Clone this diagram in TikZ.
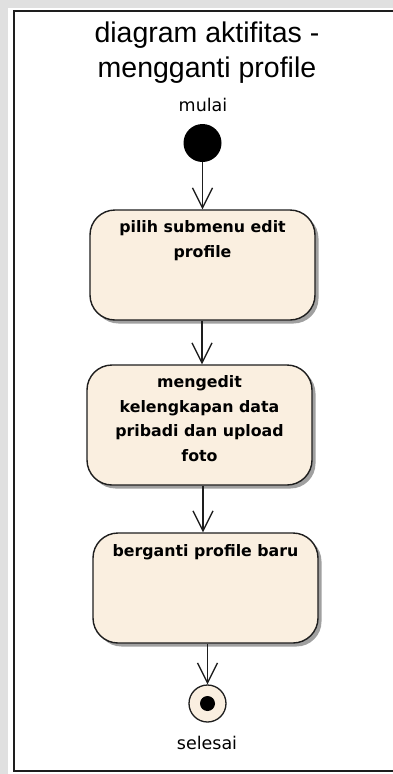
\documentclass[tikz,border=0pt]{standalone}
\usepackage{fontspec}
\usetikzlibrary{arrows.meta,calc}
\newfontfamily\titlefont{Liberation Sans}
\newfontfamily\labelfont{DejaVu Sans}
\newfontfamily\boxfont{DejaVu Sans}[BoldFont={DejaVu Sans Bold}]
\definecolor{cream}{RGB}{250,239,224}
\definecolor{framegray}{RGB}{224,224,224}
\definecolor{ink}{RGB}{30,30,30}
\definecolor{shadowgray}{RGB}{160,160,160}
\tikzset{
  actbox/.style={draw=ink, line width=1.4pt, fill=cream, rounded corners=25pt,
    minimum width=225pt, inner sep=0pt},
  boxtext/.style={anchor=north, inner sep=0pt, align=center,
    font=\boxfont\bfseries\fontsize{15.8pt}{24.5pt}\selectfont},
  lbl/.style={anchor=base, inner sep=0pt, font=\labelfont\fontsize{17.5pt}{20pt}\selectfont},
  flow/.style={draw=ink, line width=1.3pt, -{Straight Barb[length=20pt,width=20pt,line width=1.3pt]}},
  shadowbox/.style={fill=shadowgray, rounded corners=25pt}
}
\begin{document}
\begin{tikzpicture}[x=1pt,y=1pt]
\useasboundingbox (0,0) rectangle (393,-774);
\fill[framegray] (0,0) rectangle (393,-774);
\fill[white] (8,-8) rectangle (393,-774);
\draw[ink, line width=2pt] (393,-10.5) -- (14,-10.5) -- (14,-771) -- (393,-771);

% title
\node[anchor=north, inner sep=0pt, align=center,
  font=\titlefont\fontsize{28.5pt}{35pt}\selectfont] (title) at (207,-22)
  {diagram aktifitas -\\mengganti profile};

\node[lbl] (mulai) at (203,-111.8) {mulai};
\node[circle, fill=black, minimum size=38pt, inner sep=0pt] (start) at (202.5,-143) {};

% shadows
\fill[shadowgray, rounded corners=25pt] (93.5,-213.5) rectangle (318.5,-323.5);
\fill[shadowgray, rounded corners=25pt] (90.5,-368.5) rectangle (315.5,-488.5);
\fill[shadowgray, rounded corners=25pt] (96.5,-536.5) rectangle (321.5,-646.5);

\node[actbox, minimum height=110pt] (b1) at (202.5,-265) {};
\node[boxtext] (t1) at (202.5,-220.3) {pilih submenu edit\\profile};

\node[actbox, minimum height=120pt] (b2) at (199.5,-425) {};
\node[boxtext] (t2) at (199.5,-375.3) {mengedit\\kelengkapan data\\pribadi dan upload\\foto};

\node[actbox, minimum height=110pt] (b3) at (205.5,-588) {};
\node[boxtext] (t3) at (205.5,-544.3) {berganti profile baru};

\node[circle, draw=ink, line width=1.3pt, fill=cream, minimum size=37pt, inner sep=0pt] (end) at (207.5,-703.5) {};
\node[circle, fill=black, minimum size=15pt, inner sep=0pt] (endin) at (end.center) {};
\node[lbl] (selesai) at (207,-749.8) {selesai};

\draw[flow] (start.south) -- (start.south |- b1.north);
\draw[flow] (202,-320) coordinate (c1) (b1.south -| c1) -- (c1 |- b2.north);
\draw[flow] (203,-485) coordinate (c2) (b2.south -| c2) -- (c2 |- b3.north);
\draw[flow] (end.north |- b3.south) -- (end.north);
\end{tikzpicture}
\end{document}
